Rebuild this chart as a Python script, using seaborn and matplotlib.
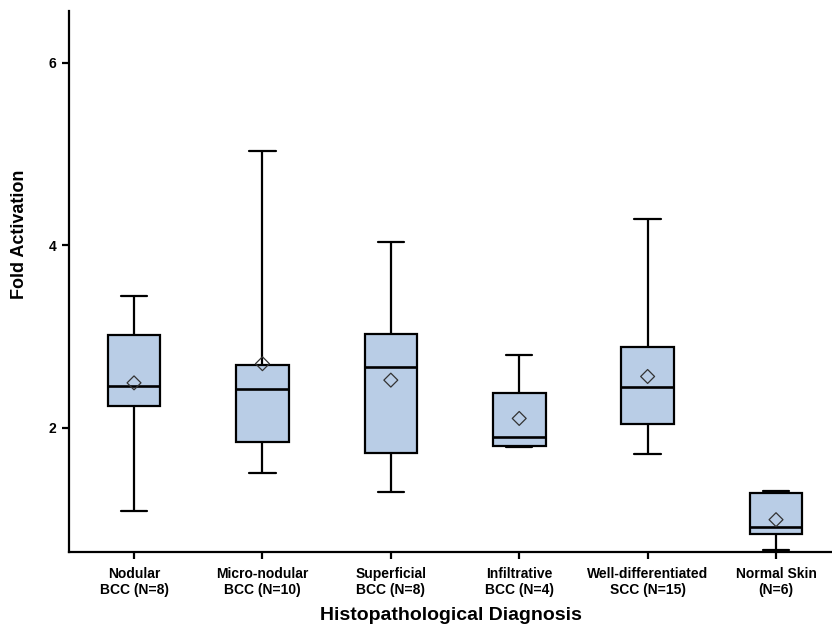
import numpy as np
import pandas as pd
import matplotlib
matplotlib.use("Agg")
import matplotlib.pyplot as plt
import seaborn as sns

categories = ["Nodular\nBCC (N=8)", "Micro-nodular\nBCC (N=10)", "Superficial\nBCC (N=8)",
              "Infiltrative\nBCC (N=4)", "Well-differentiated\nSCC (N=15)", "Normal Skin\n(N=6)"]
whisker_low = [1.08, 1.50, 1.29, 1.79, 1.71, 0.66]
q1 = [2.24, 1.84, 1.72, 1.80, 2.04, 0.83]
median = [2.46, 2.42, 2.66, 1.90, 2.45, 0.91]
q3 = [3.02, 2.69, 3.03, 2.38, 2.88, 1.28]
whisker_high = [3.44, 5.03, 4.03, 2.80, 4.29, 1.30]
means = [2.49, 2.70, 2.52, 2.10, 2.56, 0.99]

# five-number summaries as rows (min, q1, median, q3, max) per category
rows = []
for c, a, b, m, d, e in zip(categories, whisker_low, q1, median, q3, whisker_high):
    for v in (a, b, m, d, e):
        rows.append({"cat": c, "val": v})
df = pd.DataFrame(rows)

sns.set_style("ticks")
plt.rcParams["font.family"] = ["Liberation Sans", "DejaVu Sans"]

fig = plt.figure(figsize=(8.32, 6.30), dpi=100)
ax = fig.add_axes([0.083, 0.124, 0.917, 0.859])

lw = 1.6
sns.boxplot(data=df, x="cat", y="val", order=categories, whis=(0, 100), width=0.41,
            color="#B9CDE6", linecolor="black", linewidth=lw, saturation=1,
            showfliers=False, ax=ax,
            medianprops={"linewidth": 1.9, "color": "black"})

ax.scatter(np.arange(len(categories)), means, marker="D", s=50,
           facecolors="none", edgecolors="#333333", linewidths=0.9, zorder=5)

ax.set_xlim(-0.506, 5.436)
ax.set_ylim(0.637, 6.57)
ax.set_yticks([2, 4, 6])
ax.set_yticklabels(["2", "4", "6"])

for s in ["top", "right"]:
    ax.spines[s].set_visible(False)
for s in ["left", "bottom"]:
    ax.spines[s].set_linewidth(1.6)
    ax.spines[s].set_color("black")

ax.tick_params(axis="both", direction="out", length=5, width=1.6, colors="black")
ax.tick_params(axis="x", labelsize=10, pad=6)
ax.tick_params(axis="y", labelsize=10, pad=4)
for lab in ax.get_xticklabels() + ax.get_yticklabels():
    lab.set_fontweight("bold")

ax.set_xlabel("Histopathological Diagnosis", fontsize=14, fontweight="bold",
              labelpad=7, color="black")
ax.set_ylabel("Fold Activation", fontsize=13, fontweight="bold", color="black")
ax.yaxis.set_label_coords(-0.054, 0.587)

fig.savefig("out.png", dpi=100)
